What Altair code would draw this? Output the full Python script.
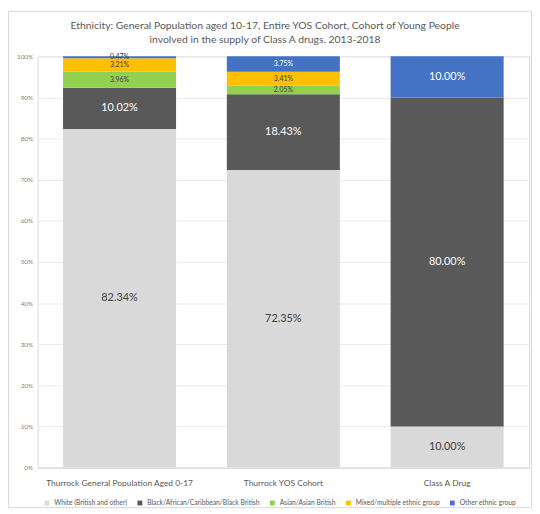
import altair as alt
import pandas as pd

categories = ["Thurrock General Population Aged 0-17", "Thurrock YOS Cohort", "Class A Drug"]
groups = ["White (British and other)", "Black/African/Caribbean/Black British",
          "Asian/Asian British", "Mixed/multiple ethnic group", "Other ethnic group"]
white = [82.34, 72.35, 10.00]
black = [10.02, 18.43, 80.00]
asian = [3.96, 2.05, 0.0]
mixed = [3.21, 3.41, 0.0]
other = [0.47, 3.75, 10.00]
colors = ["#D9D9D9", "#595959", "#92D050", "#FFC000", "#4472C4"]
y_ticks = [0, 10, 20, 30, 40, 50, 60, 70, 80, 90, 100]
title_lines = ["Ethnicity: General Population aged 10-17, Entire YOS Cohort, Cohort of Young People",
               "involved in the supply of Class A drugs. 2013-2018"]

series = [white, black, asian, mixed, other]
rows = []
for gi, (g, vals) in enumerate(zip(groups, series)):
    for ci, c in enumerate(categories):
        rows.append({"category": c, "group": g, "order": gi, "value": vals[ci]})
df = pd.DataFrame(rows)

FONT = "Lato"
W, H = 497, 416
PL, PR, PT, PB = 30, 3, 46, 41

base = alt.Chart(df)

bars = base.mark_bar().encode(
    x=alt.X("category:N", sort=categories, title=None,
            scale=alt.Scale(paddingInner=0.31, paddingOuter=0.155),
            axis=alt.Axis(labelAngle=0, labelFontSize=8.5, labelColor="#595959",
                          labelPadding=11, ticks=False, domainColor="#D9D9D9",
                          labelFont=FONT)),
    y=alt.Y("value:Q", stack="zero", title=None,
            scale=alt.Scale(domain=[0, 100], nice=False),
            axis=alt.Axis(values=y_ticks, labelExpr="datum.value + '%'",
                          labelFontSize=6.5, labelColor="#7F7F7F", ticks=False,
                          domain=False, gridColor="#EBEBEB", labelPadding=5,
                          labelFont=FONT)),
    color=alt.Color("group:N", scale=alt.Scale(domain=groups, range=colors),
                    title=None,
                    legend=alt.Legend(orient="none", direction="horizontal",
                                      legendX=6, legendY=448, symbolType="square",
                                      symbolSize=24, labelFontSize=6.8,
                                      labelColor="#595959", columnPadding=9,
                                      symbolStrokeWidth=0, labelFont=FONT)),
    order=alt.Order("order:Q"),
)

labels = base.transform_stack(
    stack="value", groupby=["category"], sort=[alt.SortField("order")], as_=["y0", "y1"]
).transform_filter("datum.value > 0").transform_calculate(
    mid="(datum.y0 + datum.y1) / 2",
    txt="format(datum.value, '.2f') + '%'",
).mark_text(font=FONT).encode(
    x=alt.X("category:N", sort=categories),
    y=alt.Y("mid:Q"),
    text="txt:N",
    size=alt.condition("datum.value >= 10", alt.value(11), alt.value(7)),
    color=alt.condition(
        "(datum.order == 1) || (datum.order == 4 && datum.value >= 1)",
        alt.value("#FFFFFF"), alt.value("#404040")),
)

frame = alt.Chart(pd.DataFrame({"a": [0]})).mark_rect(
    fill=None, stroke="#D9D9D9", strokeWidth=1
).encode(
    x=alt.value(-PL + 0.5), x2=alt.value(W + PR - 0.5),
    y=alt.value(-PT + 0.5), y2=alt.value(H + PB - 0.5),
)

t1 = alt.Chart(pd.DataFrame({"line": [title_lines[0]]})).mark_text(
    font=FONT, fontSize=10.5, color="#595959", align="center", baseline="middle"
).encode(text="line:N", x=alt.value(230), y=alt.value(-31))
t2 = alt.Chart(pd.DataFrame({"line": [title_lines[1]]})).mark_text(
    font=FONT, fontSize=10.5, color="#595959", align="center", baseline="middle"
).encode(text="line:N", x=alt.value(230), y=alt.value(-16))

chart = alt.layer(frame, bars, labels, t1, t2).properties(
    width=W, height=H,
    autosize=alt.AutoSizeParams(type="none"),
    padding={"left": PL, "right": PR, "top": PT, "bottom": PB},
).configure_view(stroke=None).configure(background="white")

chart.save("out.html", embed_options={"renderer": "svg", "actions": False})
